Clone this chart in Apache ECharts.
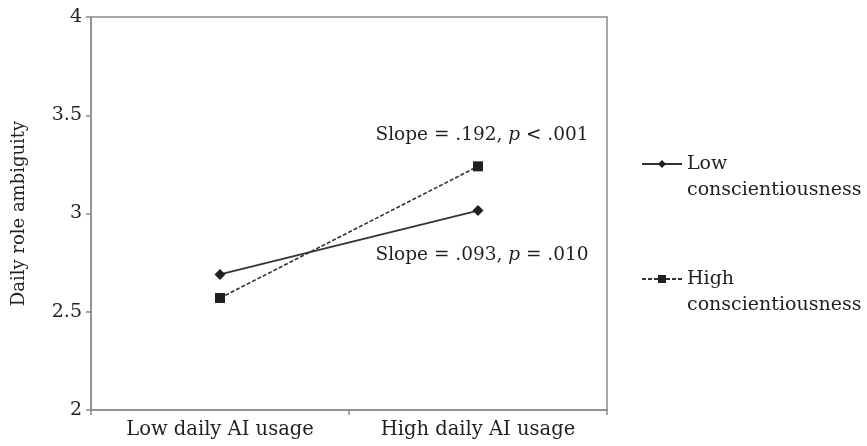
<!DOCTYPE html>
<html>
<head>
<meta charset="utf-8">
<script src="https://cdn.jsdelivr.net/npm/echarts@6/dist/echarts.min.js"></script>
<style>
  html, body { margin: 0; padding: 0; background: #fff; }
  #chart { width: 867px; height: 446px; }
</style>
</head>
<body>
<div id="chart"></div>
<script>
  // data
  var categories = ['Low daily AI usage', 'High daily AI usage'];
  var lowConsc = [2.69, 3.015];
  var highConsc = [2.57, 3.24];
  var seriesNames = ['Low conscientiousness', 'High conscientiousness'];
  var slopeTexts = [
    ['Slope = .093, ', 'p', ' = .010'],
    ['Slope = .192, ', 'p', ' < .001']
  ];

  var serif = 'DejaVu Serif';
  var ink = '#231f20';

  function slopeLabel(parts, pos, dist) {
    return {
      show: true,
      position: pos,
      distance: dist,
      offset: [4, 0],
      formatter: '{a|' + parts[0] + '}{i|' + parts[1] + '}{a|' + parts[2] + '}',
      rich: {
        a: { fontFamily: serif, fontSize: 18.5, color: ink },
        i: { fontFamily: serif, fontSize: 18.5, color: ink, fontStyle: 'italic' }
      }
    };
  }

  var chart = echarts.init(document.getElementById('chart'));

  var option = {
    animation: false,
    grid: {
      left: 91, right: 260, top: 17, bottom: 36,
      show: true,
      borderColor: '#8c8c8c',
      borderWidth: 1.5
    },
    legend: {
      orient: 'vertical',
      left: 636,
      top: 120,
      itemWidth: 40,
      itemHeight: 10,
      itemGap: 37,
      data: seriesNames,
      formatter: function (name) {
        var words = name.split(' ');
        return ' \n' + words[0] + '\n' + words[1];
      },
      textStyle: { fontFamily: serif, fontSize: 19, color: ink, lineHeight: 26 }
    },
    xAxis: {
      type: 'category',
      data: categories,
      boundaryGap: true,
      axisLine: { lineStyle: { color: '#8c8c8c', width: 1.5 } },
      axisTick: { show: true, length: 5, lineStyle: { color: '#8c8c8c', width: 1.5 } },
      axisLabel: { fontFamily: serif, fontSize: 19.5, color: ink, margin: 10 }
    },
    yAxis: {
      type: 'value',
      min: 2,
      max: 4,
      interval: 0.5,
      name: 'Daily role ambiguity',
      nameLocation: 'middle',
      nameGap: 63,
      nameTextStyle: { fontFamily: serif, fontSize: 18, color: ink },
      axisLine: { show: true, lineStyle: { color: '#8c8c8c', width: 1.5 } },
      axisTick: { show: true, length: 5, lineStyle: { color: '#8c8c8c', width: 1.5 } },
      splitLine: { show: false },
      axisLabel: { fontFamily: serif, fontSize: 19, color: ink, margin: 9 }
    },
    series: [
      {
        name: seriesNames[0],
        type: 'line',
        symbol: 'diamond',
        symbolSize: 11,
        itemStyle: { color: ink },
        lineStyle: { color: '#333', width: 1.8, type: 'solid' },
        data: [
          lowConsc[0],
          { value: lowConsc[1], label: slopeLabel(slopeTexts[0], 'bottom', 30) }
        ]
      },
      {
        name: seriesNames[1],
        type: 'line',
        symbol: 'rect',
        symbolSize: 10,
        itemStyle: { color: ink },
        lineStyle: { color: '#333', width: 1.6, type: [4, 2] },
        data: [
          highConsc[0],
          { value: highConsc[1], label: slopeLabel(slopeTexts[1], 'top', 17) }
        ]
      }
    ]
  };

  chart.setOption(option);
</script>
</body>
</html>
